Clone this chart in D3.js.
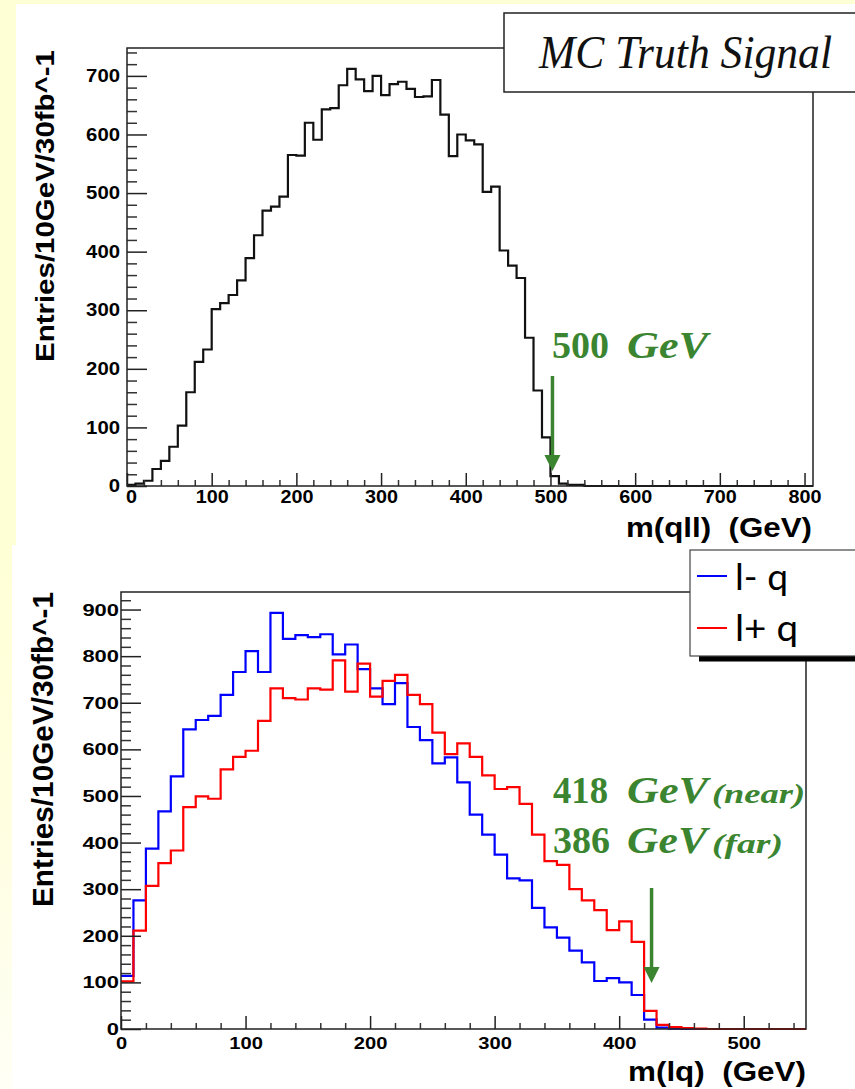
<!DOCTYPE html>
<html>
<head>
<meta charset="utf-8">
<script src="https://cdn.jsdelivr.net/npm/d3@7"></script>
<style>
  html, body { margin: 0; padding: 0; background: #ffffd6; }
  svg { display: block; }
  text { white-space: pre; }
</style>
</head>
<body>
<svg id="chart" width="855" height="1089"></svg>
<script>
// ---------------- data: invariant-mass spectra, 10 GeV bins ----------------
const binWidth = 10;

// m(qll), 0-810 GeV
const mqllEntries = [
  2, 4, 9, 29, 43, 67, 103, 160, 212, 233,
  302, 312, 326, 351, 389, 428, 470, 477, 494, 565,
  564, 620, 591, 643, 645, 684, 712, 694, 674, 700,
  667, 686, 690, 678, 664, 665, 693, 634, 563, 600,
  590, 583, 502, 511, 402, 376, 355, 253, 163, 83,
  17, 4, 2, 2, 0, 0, 0, 0, 0, 0,
  0, 0, 0, 0, 0, 0, 0, 0, 0, 0,
  0, 0, 0, 0, 0, 0, 0, 0, 0, 0,
  0
];

// m(lq), 0-550 GeV : l- q
const mlqMinusEntries = [
  114, 276, 387, 467, 542, 643, 663, 672, 717, 766,
  811, 766, 893, 837, 845, 841, 847, 804, 825, 772,
  731, 697, 742, 648, 620, 570, 583, 529, 460, 417,
  374, 323, 319, 260, 218, 196, 168, 143, 103, 109,
  100, 73, 20, 3, 1, 0, 0, 0, 0, 0,
  0, 0, 0, 0, 0
];

// m(lq), 0-550 GeV : l+ q
const mlqPlusEntries = [
  102, 211, 307, 356, 383, 476, 499, 494, 557, 584,
  597, 661, 731, 710, 707, 731, 728, 791, 724, 784,
  713, 747, 760, 717, 697, 636, 590, 613, 584, 544,
  515, 519, 483, 417, 360, 352, 300, 276, 255, 212,
  231, 187, 39, 9, 4, 2, 1, 0, 0, 0,
  0, 0, 0, 0, 0
];

// axis tick labels
const mqllXTicks = [0, 100, 200, 300, 400, 500, 600, 700, 800];
const mqllYTicks = [0, 100, 200, 300, 400, 500, 600, 700];
const mlqXTicks  = [0, 100, 200, 300, 400, 500];
const mlqYTicks  = [0, 100, 200, 300, 400, 500, 600, 700, 800, 900];

// legend entries
const legendLabels = ["l- q", "l+ q"];
const legendColors = ["#0000ff", "#ff0000"];

// endpoint annotations (GeV)
const qllEndpoint = 500;
const lqArrowAt = 426;

// ---------------- drawing ----------------
const svg = d3.select("#chart");
const green = "#3b8531";
const axisFont = "'Liberation Sans', Arial, sans-serif";
const serif = "'Liberation Serif', 'Times New Roman', serif";

// page background / panels
const defs = svg.append("defs");
const fade = defs.append("linearGradient").attr("id", "stripFade")
  .attr("x1", 0).attr("y1", 0).attr("x2", 0).attr("y2", 1);
fade.append("stop").attr("offset", "0").attr("stop-color", "#ffffd6");
fade.append("stop").attr("offset", "0.5").attr("stop-color", "#fffee0");
fade.append("stop").attr("offset", "1").attr("stop-color", "#fffff6");

svg.append("rect").attr("x", 0).attr("y", 0).attr("width", 855).attr("height", 1089).attr("fill", "#ffffd6");
svg.append("rect").attr("x", 0).attr("y", 545).attr("width", 16).attr("height", 544).attr("fill", "url(#stripFade)");
svg.append("rect").attr("x", 16).attr("y", 4).attr("width", 839).attr("height", 541).attr("fill", "#fff");
svg.append("rect").attr("x", 12).attr("y", 545).attr("width", 843).attr("height", 544).attr("fill", "#fff");

function histPath(counts, x, y) {
  let d = `M${x(0)},${y(counts[0])}`;
  counts.forEach((c, i) => {
    if (i > 0) d += `V${y(c)}`;
    d += `H${x((i + 1) * binWidth)}`;
  });
  return d;
}

function drawAxes(g, x, y, o) {
  const x0 = x.range()[0], y0 = y.range()[0];
  const yMax = y.domain()[1], xMax = x.domain()[1];
  // minor y ticks
  g.append("g").attr("transform", `translate(${x0},0)`)
    .call(d3.axisLeft(y).tickValues(d3.range(0, yMax, 20).filter(v => v % 100 !== 0))
      .tickSizeInner(-10).tickSizeOuter(0).tickFormat(""))
    .call(s => s.select(".domain").remove())
    .selectAll("line").attr("stroke", "#333").attr("stroke-width", 1.5);
  // major y ticks
  g.append("g").attr("transform", `translate(${x0},0)`)
    .call(d3.axisLeft(y).tickValues(o.yTicks).tickSizeInner(-20).tickSizeOuter(0)
      .tickPadding(o.yPad).tickFormat(d3.format("d")))
    .call(s => s.select(".domain").remove())
    .call(s => s.selectAll("line").attr("stroke", "#222").attr("stroke-width", 1.5))
    .selectAll("text")
      .attr("font-family", axisFont).attr("font-weight", "bold")
      .attr("font-size", o.yFont).attr("fill", "#000")
      .attr("textLength", d => String(d).length * o.yDigit)
      .attr("lengthAdjust", "spacingAndGlyphs");
  // minor x ticks
  g.append("g").attr("transform", `translate(0,${y0})`)
    .call(d3.axisBottom(x).tickValues(d3.range(0, xMax, 20).filter(v => v % 100 !== 0))
      .tickSizeInner(-6).tickSizeOuter(0).tickFormat(""))
    .call(s => s.select(".domain").remove())
    .selectAll("line").attr("stroke", "#333").attr("stroke-width", 1.5);
  // major x ticks
  g.append("g").attr("transform", `translate(0,${y0})`)
    .call(d3.axisBottom(x).tickValues(o.xTicks).tickSizeInner(-13).tickSizeOuter(0)
      .tickPadding(o.xPad).tickFormat(d3.format("d")))
    .call(s => s.select(".domain").remove())
    .call(s => s.selectAll("line").attr("stroke", "#222").attr("stroke-width", 1.5))
    .selectAll("text")
      .attr("font-family", axisFont).attr("font-weight", "bold")
      .attr("font-size", o.xFont).attr("fill", "#000")
      .attr("textLength", d => String(d).length * o.xDigit)
      .attr("lengthAdjust", "spacingAndGlyphs")
      .attr("dx", d => d === 0 ? o.zeroShift : 0);
}

function frame(g, x, y, topEnd, rightStart) {
  const [xa, xb] = x.range(), [ya, yb] = y.range();
  g.append("path")
    .attr("d", `M${topEnd},${yb}H${xa}V${ya}H${xb}V${rightStart}`)
    .attr("fill", "none").attr("stroke", "#222").attr("stroke-width", 1.5);
}

function arrow(g, xp, yTop, yTip) {
  g.append("line").attr("x1", xp).attr("x2", xp).attr("y1", yTop).attr("y2", yTip - 14)
    .attr("stroke", green).attr("stroke-width", 3.5);
  g.append("path").attr("d", `M${xp - 8},${yTip - 16}L${xp + 8},${yTip - 16}L${xp},${yTip}Z`)
    .attr("fill", green);
}

function boldLabel(g, text, x, y, size, len, italic) {
  g.append("text").attr("x", x).attr("y", y).text(text)
    .attr("font-family", serif).attr("font-weight", "bold")
    .attr("font-style", italic ? "italic" : "normal")
    .attr("font-size", size).attr("fill", green)
    .attr("textLength", len).attr("lengthAdjust", "spacingAndGlyphs");
}

// ======== upper panel: m(qll) ========
{
  const g = svg.append("g");
  const x = d3.scaleLinear().domain([0, mqllEntries.length * binWidth]).range([127, 813]);
  const y = d3.scaleLinear().domain([0, 1.05 * d3.max(mqllEntries)]).range([486, 48]);

  g.append("path").attr("d", histPath(mqllEntries, x, y))
    .attr("fill", "none").attr("stroke", "#111").attr("stroke-width", 2.2);

  drawAxes(g, x, y, { yTicks: mqllYTicks, xTicks: mqllXTicks, yPad: 7, xPad: 5,
    yFont: 17.5, xFont: 17.5, yDigit: 11.3, xDigit: 11, zeroShift: 4 });
  frame(g, x, y, 504, 92);

  // y title
  g.append("text").attr("transform", "translate(54,362) rotate(-90)")
    .text("Entries/10GeV/30fb^-1")
    .attr("font-family", axisFont).attr("font-weight", "bold").attr("font-size", 25)
    .attr("textLength", 312).attr("lengthAdjust", "spacingAndGlyphs");
  // x title
  g.append("text").attr("x", 812).attr("y", 537).attr("text-anchor", "end")
    .text("m(qll)  (GeV)")
    .attr("font-family", axisFont).attr("font-weight", "bold").attr("font-size", 27)
    .attr("textLength", 186).attr("lengthAdjust", "spacingAndGlyphs");

  // title box
  g.append("rect").attr("x", 504).attr("y", 13).attr("width", 400).attr("height", 79)
    .attr("fill", "#fff").attr("stroke", "#222").attr("stroke-width", 1.5);
  g.append("text").attr("x", 539).attr("y", 68).text("MC Truth Signal")
    .attr("font-family", serif).attr("font-style", "italic").attr("font-size", 46)
    .attr("fill", "#111")
    .attr("textLength", 293).attr("lengthAdjust", "spacingAndGlyphs");

  // endpoint annotation
  boldLabel(g, "500", 552, 358, 38, 57, false);
  boldLabel(g, "GeV", 627, 358, 38, 81, true);
  arrow(g, x(qllEndpoint) + 2, 376, 471);
}

// ======== lower panel: m(lq) ========
{
  const g = svg.append("g");
  const x = d3.scaleLinear().domain([0, mlqMinusEntries.length * binWidth]).range([121, 806]);
  const yMax = 1.05 * d3.max([...mlqMinusEntries, ...mlqPlusEntries]);
  const y = d3.scaleLinear().domain([0, yMax]).range([1029, 592]);

  g.append("path").attr("d", histPath(mlqMinusEntries, x, y))
    .attr("fill", "none").attr("stroke", legendColors[0]).attr("stroke-width", 2.2);
  g.append("path").attr("d", histPath(mlqPlusEntries, x, y))
    .attr("fill", "none").attr("stroke", legendColors[1]).attr("stroke-width", 2.2);

  drawAxes(g, x, y, { yTicks: mlqYTicks, xTicks: mlqXTicks, yPad: 2, xPad: 8,
    yFont: 17, xFont: 17, yDigit: 12.2, xDigit: 11.2, zeroShift: 0 });
  frame(g, x, y, 690, 660);

  g.append("text").attr("transform", "translate(53,907) rotate(-90)")
    .text("Entries/10GeV/30fb^-1")
    .attr("font-family", axisFont).attr("font-weight", "bold").attr("font-size", 29)
    .attr("textLength", 315).attr("lengthAdjust", "spacingAndGlyphs");
  g.append("text").attr("x", 806).attr("y", 1081).attr("text-anchor", "end")
    .text("m(lq)  (GeV)")
    .attr("font-family", axisFont).attr("font-weight", "bold").attr("font-size", 27)
    .attr("textLength", 178).attr("lengthAdjust", "spacingAndGlyphs");

  // legend
  g.append("rect").attr("x", 699).attr("y", 656).attr("width", 200).attr("height", 5.5).attr("fill", "#000");
  g.append("rect").attr("x", 690).attr("y", 550).attr("width", 200).attr("height", 106)
    .attr("fill", "#fff").attr("stroke", "#444").attr("stroke-width", 1.2);
  const rows = [{ ly: 576, ty: 590, len: 53 }, { ly: 628, ty: 641, len: 63 }];
  legendLabels.forEach((lab, i) => {
    g.append("line").attr("x1", 697).attr("x2", 727).attr("y1", rows[i].ly).attr("y2", rows[i].ly)
      .attr("stroke", legendColors[i]).attr("stroke-width", 2);
    g.append("text").attr("x", 735).attr("y", rows[i].ty).text(lab)
      .attr("font-family", "Lato, 'Liberation Sans', sans-serif").attr("font-size", 37).attr("fill", "#000")
      .attr("textLength", rows[i].len).attr("lengthAdjust", "spacingAndGlyphs");
  });

  // endpoint annotations
  boldLabel(g, "418", 553, 803, 38, 55, false);
  boldLabel(g, "GeV", 627, 803, 38, 81, true);
  boldLabel(g, "(near)", 712, 803, 28, 93, true);
  boldLabel(g, "386", 553, 853, 38, 57, false);
  boldLabel(g, "GeV", 627, 853, 38, 80, true);
  boldLabel(g, "(far)", 712, 853, 28, 71, true);
  arrow(g, x(lqArrowAt), 888, 983);
}
</script>
</body>
</html>
